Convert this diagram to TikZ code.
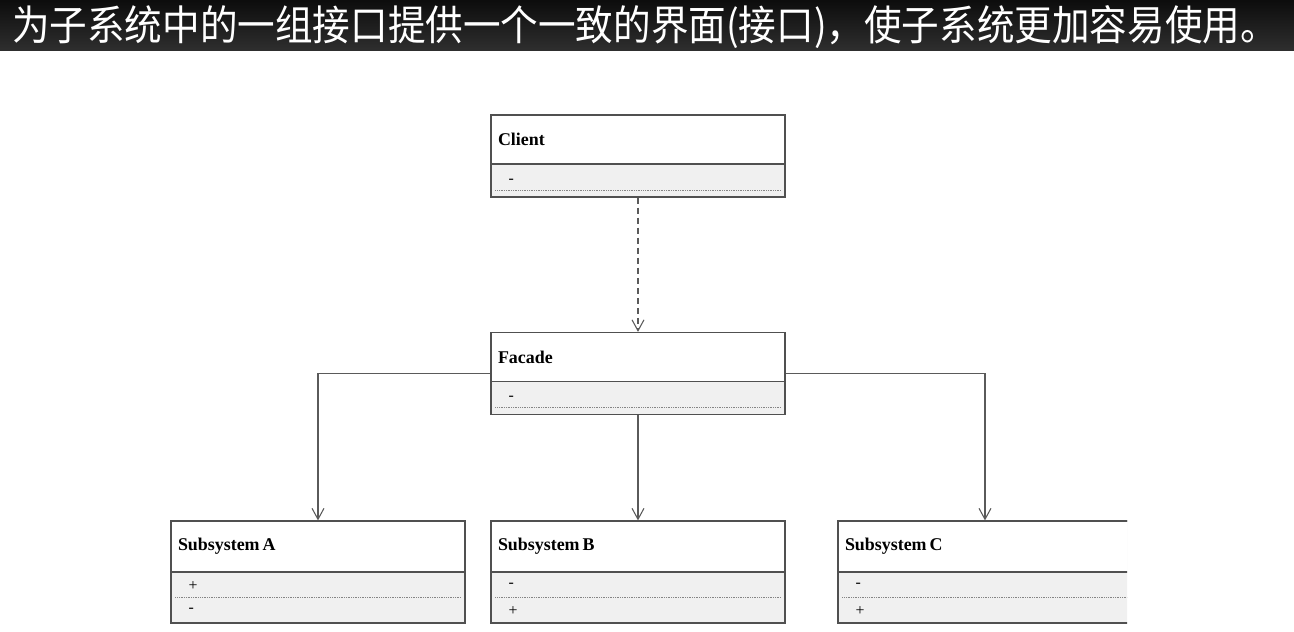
\documentclass[tikz,border=0pt]{standalone}
\usepackage{fontspec}
\setmainfont{Liberation Serif}
\newfontfamily\cjk{Noto Sans CJK SC}
\usetikzlibrary{arrows.meta,positioning,calc}
\definecolor{frame}{RGB}{80,80,80}
\definecolor{shade}{RGB}{240,240,240}
\definecolor{wire}{RGB}{90,90,90}
\tikzset{
  >={Straight Barb[length=2.2mm,width=2.4mm]},
  cls/.style={draw=frame,fill=shade,line width=0.7pt,minimum width=5.88cm,
    minimum height=#1,inner sep=0pt},
  cls/.default=1.64cm,
  head/.style={draw=frame,fill=white,line width=0.7pt,anchor=north west,
    text width=5.6cm,inner xsep=0.14cm,inner ysep=0pt,minimum height=#1,
    align=left,font=\bfseries\fontsize{10.2}{12}\selectfont},
  head/.default=0.98cm,
  member/.style={inner sep=0pt,anchor=west,font=\fontsize{9}{10}\selectfont},
  sep/.style={draw=frame!70,line width=0.5pt,dash pattern=on 0.5pt off 0.5pt},
  link/.style={draw=wire,line width=0.6pt,->},
  uses/.style={link,dash pattern=on 3.4pt off 2.3pt},
  caption/.style={text=white,font=\cjk\fontsize{23.5}{25}\selectfont,inner sep=0pt,xscale=0.91},
}
\begin{document}
\begin{tikzpicture}
  \useasboundingbox (0,0) rectangle (25.88,-12.64);
  \fill[white] (0,0) rectangle (25.88,-12.64);
  % title bar
  \shade[top color=black!95,bottom color=black!82] (0,0) rectangle (25.88,-1.0);
  \node[caption] (title) at (12.9,-0.54) {为子系统中的一组接口提供一个一致的界面(接口)，使子系统更加容易使用。};

  \begin{scope}
    \clip (0,-1) rectangle (22.54,-12.64);
    % client
    \node[cls] (client) at (12.76,-3.12) {};
    \node[head] (clienthead) at (client.north west) {Client};
    \node[member] at ($(clienthead.south west)+(0.36,-0.33)$) {-};
    \draw[sep] ($(client.south west)+(0.1,0.15)$) -- ($(client.south east)+(-0.1,0.15)$);
    % facade
    \node[cls] (facade) at (12.76,-7.47) {};
    \node[head] (facadehead) at (facade.north west) {Facade};
    \node[member] at ($(facadehead.south west)+(0.36,-0.33)$) {-};
    \draw[sep] ($(facade.south west)+(0.1,0.15)$) -- ($(facade.south east)+(-0.1,0.15)$);
    % subsystems
    \foreach \n/\x/\p/\q in {A/6.36/+/-,B/12.76/-/+,C/19.70/-/+}{
      \node[cls=2.04cm] (sub\n) at (\x,-11.44) {};
      \node[head=1.02cm] (sub\n head) at (sub\n.north west) {Subsystem\,\n};
      \node[member] at ($(sub\n head.south west)+(0.36,-0.26)$) {\p};
      \node[member] at ($(sub\n head.south west)+(0.36,-0.76)$) {\q};
      \draw[sep] ($(sub\n head.south west)+(0.1,-0.5)$) -- ($(sub\n head.south east)+(-0.1,-0.5)$);
    }
  \end{scope}

  \draw[uses] (client) -- (facade);
  \draw[link] (facade.west) -| (subA.north);
  \draw[link] (facade) -- (subB);
  \draw[link] (facade.east) -| (subC.north);
\end{tikzpicture}
\end{document}
